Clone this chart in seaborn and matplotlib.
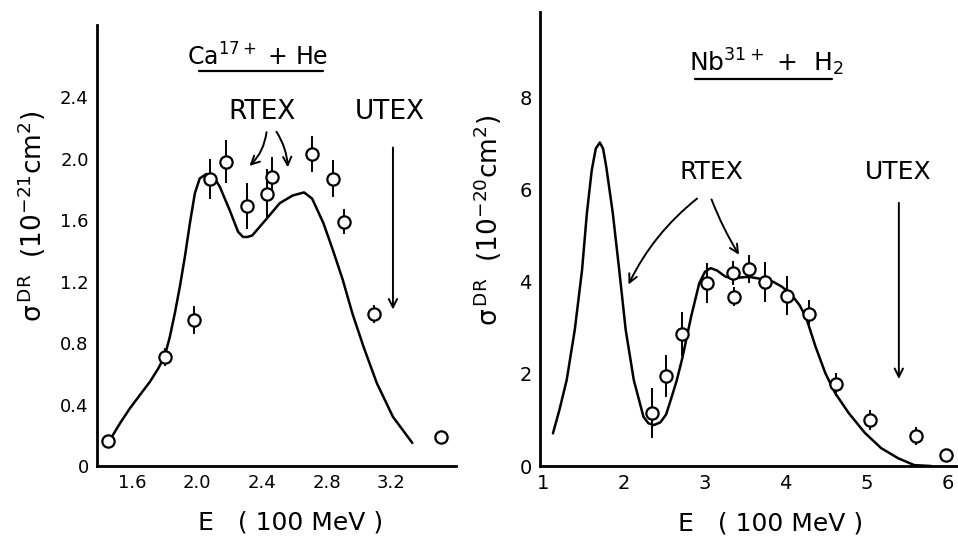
import matplotlib
matplotlib.use("Agg")
import matplotlib.pyplot as plt
import seaborn as sns
import pandas as pd

# Ca17+ + He : measured points (E in 100 MeV, sigma in 1e-21 cm^2)
ca_E = [1.45, 1.80, 1.98, 2.08, 2.18, 2.31, 2.43, 2.46, 2.71, 2.84, 2.91, 3.09, 3.51]
ca_sig = [0.16, 0.71, 0.95, 1.87, 1.98, 1.69, 1.77, 1.88, 2.03, 1.87, 1.59, 0.99, 0.19]
ca_err = [0.0, 0.06, 0.09, 0.13, 0.14, 0.15, 0.16, 0.13, 0.12, 0.12, 0.08, 0.06, 0.0]

# Ca17+ + He : calculated curve
ca_curve_E = [1.456, 1.522, 1.583, 1.645, 1.707, 1.759, 1.80, 1.83, 1.861, 1.892,
              1.923, 1.954, 1.985, 2.015, 2.057, 2.098, 2.139, 2.20, 2.252, 2.283,
              2.31, 2.34, 2.43, 2.51, 2.59, 2.66, 2.71, 2.78, 2.84, 2.90,
              2.96, 3.03, 3.11, 3.21, 3.33]
ca_curve_sig = [0.163, 0.278, 0.375, 0.462, 0.548, 0.635, 0.72, 0.84, 0.993, 1.166,
                1.36, 1.578, 1.774, 1.871, 1.90, 1.886, 1.817, 1.665, 1.524, 1.49,
                1.49, 1.50, 1.61, 1.71, 1.76, 1.78, 1.74, 1.58, 1.40, 1.21,
                0.99, 0.77, 0.54, 0.32, 0.15]

# Nb31+ + H2 : measured points (sigma in 1e-20 cm^2)
nb_E = [2.34, 2.52, 2.72, 3.03, 3.35, 3.36, 3.55, 3.74, 4.02, 4.29, 4.62, 5.04, 5.61, 5.98]
nb_sig = [1.15, 1.96, 2.87, 3.98, 4.20, 3.68, 4.28, 4.00, 3.70, 3.30, 1.78, 1.00, 0.65, 0.24]
nb_err = [0.55, 0.45, 0.47, 0.43, 0.26, 0.20, 0.30, 0.43, 0.42, 0.30, 0.25, 0.22, 0.20, 0.0]

# Nb31+ + H2 : calculated curve
nb_curve_E = [1.12, 1.20, 1.29, 1.39, 1.48, 1.54, 1.60, 1.65, 1.70, 1.74, 1.78,
              1.86, 1.94, 2.02, 2.12, 2.24, 2.30, 2.37, 2.45, 2.52, 2.58,
              2.65, 2.72, 2.83, 2.93, 3.00, 3.07, 3.15, 3.25, 3.35, 3.45,
              3.55, 3.65, 3.75, 3.85, 3.95, 4.02, 4.09, 4.17, 4.25, 4.37,
              4.49, 4.61, 4.78, 4.98, 5.18, 5.39, 5.59, 5.80]
nb_curve_sig = [0.71, 1.22, 1.87, 2.96, 4.26, 5.5, 6.43, 6.9, 7.03, 6.9, 6.5,
                5.5, 4.26, 2.96, 1.87, 1.07, 0.93, 0.89, 0.95, 1.12, 1.45,
                1.85, 2.34, 3.25, 3.97, 4.22, 4.30, 4.25, 4.12, 4.07, 4.10,
                4.11, 4.08, 4.05, 4.00, 3.90, 3.80, 3.68, 3.50, 3.24, 2.59,
                2.02, 1.59, 1.15, 0.72, 0.39, 0.17, 0.02, 0.0]

ca_xticks = [1.6, 2.0, 2.4, 2.8, 3.2]
ca_yticks = [0, 0.4, 0.8, 1.2, 1.6, 2.0, 2.4]
nb_xticks = [1, 2, 3, 4, 5, 6]
nb_yticks = [0, 2, 4, 6, 8]

sns.set_style("white")
plt.rcParams['font.family'] = ['DejaVu Sans']
plt.rcParams['mathtext.default'] = 'regular'
plt.rcParams['text.color'] = 'k'
plt.rcParams['axes.labelcolor'] = 'k'
plt.rcParams['xtick.color'] = 'k'
plt.rcParams['ytick.color'] = 'k'

fig = plt.figure(figsize=(9.58, 5.40), dpi=100)
ax1 = fig.add_axes([0.1013, 0.137, 0.3747, 0.817])
ax2 = fig.add_axes([0.5637, 0.137, 0.4353, 0.841])


def draw_panel(ax, cE, cS, pE, pS, pErr):
    sns.lineplot(x=cE, y=cS, ax=ax, color='k', lw=1.8, sort=False,
                 estimator=None, zorder=2)
    ax.errorbar(pE, pS, yerr=pErr, fmt='none', ecolor='k', elinewidth=1.4,
                capsize=0, zorder=3)
    sns.scatterplot(x=pE, y=pS, ax=ax, marker='o', s=78, facecolor='white',
                    edgecolor='k', linewidth=1.6, zorder=4)
    for s in ['top', 'right']:
        ax.spines[s].set_visible(False)
    for s in ['left', 'bottom']:
        ax.spines[s].set_color('k')
        ax.spines[s].set_linewidth(2.0)
    ax.tick_params(length=0, pad=6, colors='k')


arrow = dict(arrowstyle='->', color='k', lw=1.4, mutation_scale=15)

# ---- left panel
draw_panel(ax1, ca_curve_E, ca_curve_sig, ca_E, ca_sig, ca_err)
ax1.set_xlim(1.38, 3.6)
ax1.set_ylim(0, 2.87)
ax1.set_xticks(ca_xticks)
ax1.set_xticklabels([f'{v:.1f}' for v in ca_xticks], fontsize=13)
ax1.set_yticks(ca_yticks)
ax1.set_yticklabels(['0'] + [f'{v:.1f}' for v in ca_yticks[1:]], fontsize=13)
ax1.set_xlabel('E   ( 100 MeV )', fontsize=18, va='center')
ax1.xaxis.set_label_coords(0.538, -0.129)
ax1.set_ylabel(r'$\sigma^{\,DR}$  (10$^{-21}$cm$^{2}$)', fontsize=19,
               va='center', ha='center')
ax1.yaxis.set_label_coords(-0.181, 0.567)

ax1.text(0.446, 0.927, r'Ca$^{17+}$ + He', transform=ax1.transAxes,
         ha='center', va='center', fontsize=17)
ax1.plot([0.284, 0.630], [0.896, 0.896], transform=ax1.transAxes,
         color='k', lw=1.6, clip_on=False)
ax1.text(2.40, 2.30, 'RTEX', ha='center', va='center', fontsize=19)
ax1.text(3.19, 2.30, 'UTEX', ha='center', va='center', fontsize=19)
ax1.annotate('', xy=(2.31, 1.94), xytext=(2.43, 2.19), arrowprops=dict(
    arrow, connectionstyle='arc3,rad=-0.2'))
ax1.annotate('', xy=(2.56, 1.925), xytext=(2.48, 2.19), arrowprops=dict(
    arrow, connectionstyle='arc3,rad=-0.15'))
ax1.annotate('', xy=(3.21, 1.0), xytext=(3.21, 2.09), arrowprops=arrow)

# ---- right panel
draw_panel(ax2, nb_curve_E, nb_curve_sig, nb_E, nb_sig, nb_err)
ax2.set_xlim(0.96, 6.12)
ax2.set_ylim(0, 9.87)
ax2.set_xticks(nb_xticks)
ax2.set_xticklabels([str(v) for v in nb_xticks], fontsize=14)
ax2.set_yticks(nb_yticks)
ax2.set_yticklabels([str(v) for v in nb_yticks], fontsize=14)
ax2.set_xlabel('E   ( 100 MeV )', fontsize=18, va='center')
ax2.xaxis.set_label_coords(0.552, -0.126)
ax2.set_ylabel(r'$\sigma^{\,DR}$  (10$^{-20}$cm$^{2}$)', fontsize=19,
               va='center', ha='center')
ax2.yaxis.set_label_coords(-0.125, 0.54)

ax2.text(0.542, 0.890, r'Nb$^{31+}$ +  H$_{2}$', transform=ax2.transAxes,
         ha='center', va='center', fontsize=18)
ax2.plot([0.372, 0.700], [0.852, 0.852], transform=ax2.transAxes,
         color='k', lw=1.6, clip_on=False)
ax2.text(3.085, 6.39, 'RTEX', ha='center', va='center', fontsize=18)
ax2.text(5.39, 6.39, 'UTEX', ha='center', va='center', fontsize=18)
ax2.annotate('', xy=(2.04, 3.89), xytext=(2.93, 5.85), arrowprops=dict(
    arrow, connectionstyle='arc3,rad=0.12'))
ax2.annotate('', xy=(3.44, 4.54), xytext=(3.07, 5.85), arrowprops=dict(
    arrow, connectionstyle='arc3,rad=0.05'))
ax2.annotate('', xy=(5.40, 1.83), xytext=(5.40, 5.78), arrowprops=arrow)

fig.savefig('out.png', dpi=100)
